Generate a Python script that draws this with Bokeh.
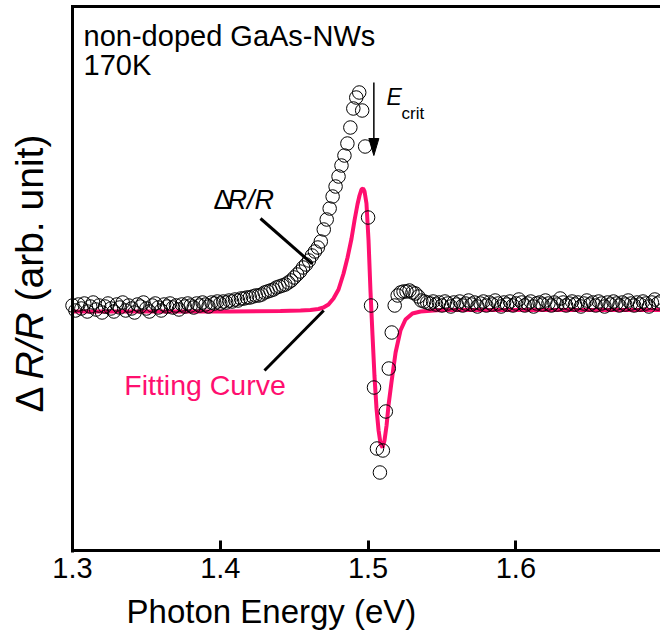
import math
from bokeh.plotting import figure
from bokeh.models import Label, Range1d, FixedTicker
from bokeh.embed import file_html
from bokeh.resources import INLINE

# ---- data: measured ΔR/R (open circles) ----
energy_meas = [
    1.300, 1.302, 1.304, 1.306, 1.308, 1.310, 1.312, 1.314, 1.316, 1.318,
    1.320, 1.322, 1.324, 1.326, 1.328, 1.330, 1.332, 1.334, 1.336, 1.338,
    1.340, 1.342, 1.344, 1.346, 1.348, 1.350, 1.352, 1.354, 1.356, 1.358,
    1.360, 1.362, 1.364, 1.366, 1.368, 1.370, 1.372, 1.374, 1.376, 1.378,
    1.380, 1.382, 1.384, 1.386, 1.388, 1.390, 1.392, 1.394, 1.396, 1.398,
    1.400, 1.402, 1.404, 1.406, 1.408, 1.410, 1.412, 1.414, 1.416, 1.418,
    1.420, 1.422, 1.424, 1.426, 1.428, 1.430, 1.432, 1.434, 1.436, 1.438,
    1.440, 1.442, 1.444, 1.446, 1.448, 1.450, 1.452, 1.454, 1.456, 1.458,
    1.460, 1.462, 1.464, 1.466, 1.468, 1.470, 1.472, 1.474, 1.476, 1.478,
    1.480, 1.482, 1.484, 1.486, 1.488, 1.490, 1.492, 1.494, 1.496, 1.498,
    1.500, 1.502, 1.504, 1.506, 1.508, 1.510, 1.512, 1.514, 1.516, 1.518,
    1.520, 1.522, 1.524, 1.526, 1.528, 1.530, 1.532, 1.534, 1.536, 1.538,
    1.540, 1.542, 1.544, 1.546, 1.548, 1.550, 1.552, 1.554, 1.556, 1.558,
    1.560, 1.562, 1.564, 1.566, 1.568, 1.570, 1.572, 1.574, 1.576, 1.578,
    1.580, 1.582, 1.584, 1.586, 1.588, 1.590, 1.592, 1.594, 1.596, 1.598,
    1.600, 1.602, 1.604, 1.606, 1.608, 1.610, 1.612, 1.614, 1.616, 1.618,
    1.620, 1.622, 1.624, 1.626, 1.628, 1.630, 1.632, 1.634, 1.636, 1.638,
    1.640, 1.642, 1.644, 1.646, 1.648, 1.650, 1.652, 1.654, 1.656, 1.658,
    1.660, 1.662, 1.664, 1.666, 1.668, 1.670, 1.672, 1.674, 1.676, 1.678,
    1.680, 1.682, 1.684, 1.686, 1.688, 1.690, 1.692, 1.694, 1.696, 1.698,
]
dRR_meas = [
    0.03, -0.02, 0.04, 0.00, 0.05, -0.03, 0.02, 0.06, -0.01, 0.03,
    -0.04, 0.02, 0.05, 0.00, -0.03, 0.04, 0.01, 0.06, -0.02, 0.03,
    0.00, -0.04, 0.04, 0.02, 0.06, 0.00, -0.03, 0.03, 0.05, 0.01,
    -0.02, 0.04, 0.02, 0.05, 0.01, 0.03, -0.01, 0.04, 0.02, 0.05,
    0.03, 0.01, 0.05, 0.03, 0.06, 0.04, 0.02, 0.06, 0.05, 0.07,
    0.05, 0.07, 0.06, 0.08, 0.07, 0.09, 0.08, 0.10, 0.10, 0.11,
    0.11, 0.12, 0.13, 0.13, 0.14, 0.16, 0.17, 0.18, 0.19, 0.21,
    0.22, 0.23, 0.24, 0.26, 0.28, 0.31, 0.34, 0.37, 0.41, 0.44,
    0.48, 0.53, 0.57, 0.61, 0.67, 0.79, 0.89, 1.00, 1.12, 1.22,
    1.32, 1.43, 1.53, 1.65, 1.81, 2.00, 2.11, 2.16, 1.98, 1.62,
    0.91, 0.03, -0.79, -1.40, -1.64, -1.42, -1.03, -0.60, -0.24, 0.03,
    0.13, 0.16, 0.17, 0.17, 0.18, 0.16, 0.15, 0.12, 0.08, 0.07,
    0.06, 0.05, 0.07, 0.04, 0.06, 0.03, 0.07, 0.05, 0.02, 0.06,
    0.04, 0.07, 0.03, 0.05, 0.08, 0.04, 0.06, 0.02, 0.05, 0.07,
    0.03, 0.06, 0.04, 0.08, 0.05, 0.02, 0.06, 0.04, 0.07, 0.03,
    0.05, 0.09, 0.06, 0.03, 0.05, 0.07, 0.02, 0.05, 0.06, 0.04,
    0.08, 0.05, 0.03, 0.06, 0.04, 0.10, 0.06, 0.03, 0.05, 0.07,
    0.04, 0.06, 0.02, 0.05, 0.08, 0.04, 0.06, 0.03, 0.07, 0.05,
    0.02, 0.06, 0.04, 0.07, 0.05, 0.03, 0.06, 0.04, 0.08, 0.05,
    0.03, 0.06, 0.04, 0.07, 0.05, 0.02, 0.06, 0.09, 0.05, 0.07,
]

# ---- data: fitting curve ----
energy_fit = [
    1.3000, 1.3528, 1.4069, 1.4407, 1.4543, 1.4610, 1.4664, 1.4698, 1.4732,
    1.4766, 1.4800, 1.4834, 1.4861, 1.4888, 1.4908, 1.4928, 1.4942, 1.4955,
    1.4966, 1.4976, 1.4989, 1.5003, 1.5016, 1.5030, 1.5043, 1.5057, 1.5071,
    1.5084, 1.5098, 1.5111, 1.5125, 1.5138, 1.5158, 1.5186, 1.5219, 1.5253,
    1.5300, 1.5355, 1.5490, 1.5896, 1.6437, 1.6978,
]
dRR_fit = [
    -0.03, -0.03, -0.03, -0.025, -0.02, -0.015, -0.005, 0.01, 0.04,
    0.10, 0.19, 0.35, 0.51, 0.70, 0.88, 1.04, 1.13, 1.19,
    1.20, 1.17, 1.05, 0.68, 0.18, -0.27, -0.67, -1.00, -1.22,
    -1.35, -1.39, -1.32, -1.17, -0.97, -0.74, -0.44, -0.22, -0.11,
    -0.05, -0.03, -0.015, -0.015, -0.015, -0.015,
]

x_ticks = [1.3, 1.4, 1.5, 1.6]

X_MIN, X_MAX = 1.3, 1.6978     # plotted energy window
Y_MIN, Y_MAX = -2.42, 3.02     # plotted ΔR/R window

PINK = "#FF0F6F"
FONT = "Liberation Sans"

# the frame covers the whole canvas; the axes sit at fixed locations inside it
p = figure(width=660, height=639, output_backend="svg", toolbar_location=None,
           x_range=Range1d(1.25129, 1.69784), y_range=Range1d(-3.31, 3.08),
           min_border_left=0, min_border_right=0, min_border_top=0,
           min_border_bottom=0)
p.outline_line_color = None
p.grid.visible = False
p.background_fill_color = "white"
p.border_fill_color = "white"

# x axis
xa = p.xaxis[0]
xa.fixed_location = Y_MIN
xa.bounds = (X_MIN, X_MAX)
xa.ticker = FixedTicker(ticks=x_ticks)
xa.axis_line_width = 3
xa.major_tick_line_width = 3
xa.major_tick_in = 10
xa.major_tick_out = 0
xa.minor_tick_line_color = None
xa.major_label_text_font = FONT
xa.major_label_text_font_size = "29px"
xa.major_label_text_color = "black"
xa.major_label_standoff = 7

# y axis: line only
ya = p.yaxis[0]
ya.fixed_location = X_MIN
ya.bounds = (Y_MIN - 0.015, Y_MAX + 0.015)
ya.ticker = FixedTicker(ticks=[])
ya.axis_line_width = 3
ya.major_tick_line_color = None
ya.minor_tick_line_color = None
ya.major_label_text_font_size = "0px"

# top frame line
p.segment(x0=[X_MIN - 0.001], y0=[Y_MAX], x1=[X_MAX + 0.01], y1=[Y_MAX],
          line_color="black", line_width=3)

# fitting curve
p.line(energy_fit, dRR_fit, line_color=PINK, line_width=4)
# measured points
p.scatter(energy_meas, dRR_meas, marker="circle", size=13.5, fill_color=None,
          line_color="black", line_width=1)

# leader lines
p.segment(x0=[1.4272, 1.4700], y0=[0.90, -0.02], x1=[1.4622, 1.4299], y1=[0.447, -0.62],
          line_color="black", line_width=3)

# E_crit arrow
p.segment(x0=[1.5039], y0=[2.26], x1=[1.5039], y1=[1.66], line_color="black", line_width=1.5)
p.patch([1.5005, 1.5073, 1.5039], [1.70, 1.70, 1.53], fill_color="black", line_color="black")


def lab(text, x, y, size, style="normal", color="black", align="left", angle=0.0):
    return Label(x=x, y=y, text=text, text_font=FONT, text_font_size=size,
                 text_font_style=style, text_color=color, text_align=align,
                 text_baseline="alphabetic", angle=angle)


p.add_layout(lab("non-doped GaAs-NWs", 1.3075, 2.724, "29px"))
p.add_layout(lab("170K", 1.3075, 2.434, "29px"))
p.add_layout(lab("E", 1.5124, 2.113, "23px", style="italic"))
p.add_layout(lab("crit", 1.5226, 1.95, "17px"))
p.add_layout(lab("Δ", 1.3954, 1.087, "27px"))
p.add_layout(lab("R/R", 1.4049, 1.087, "27px", style="italic"))
p.add_layout(lab("Fitting Curve", 1.3350, -0.767, "28.5px", color=PINK))

# y axis title (rotated)
p.add_layout(lab("Δ", 1.2709, -1.04, "39px", angle=math.pi / 2))
p.add_layout(lab("R/R", 1.2709, -0.71, "39px", style="italic", angle=math.pi / 2))
p.add_layout(lab("(arb. unit)", 1.2709, 0.07, "39px", angle=math.pi / 2))

# x axis title
p.add_layout(lab("Photon Energy (eV)", 1.4346, -3.031, "33px", align="center"))

open("out.html", "w").write(file_html(p, INLINE))
